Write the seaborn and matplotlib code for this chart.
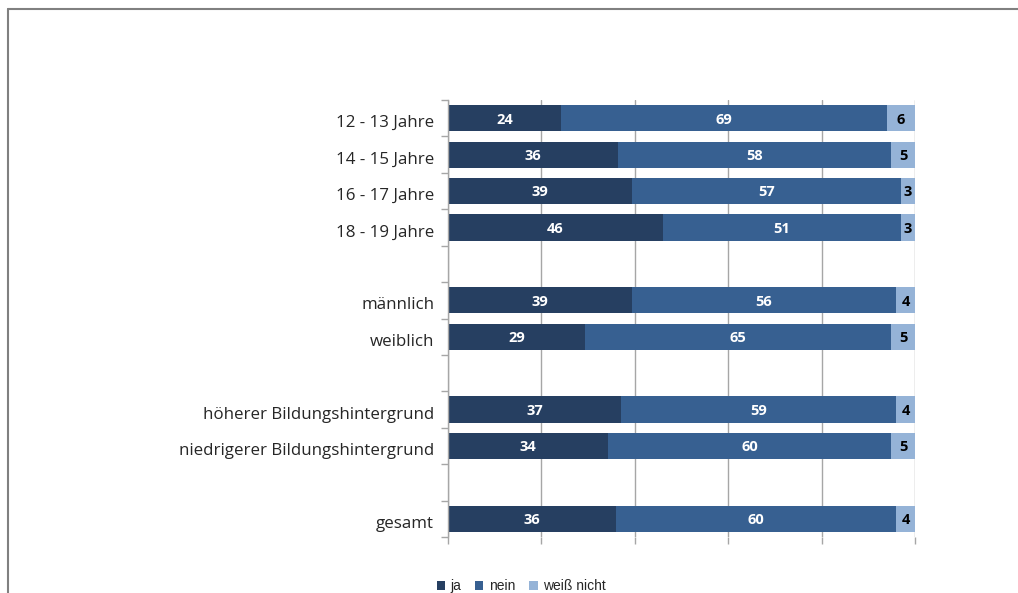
import matplotlib
matplotlib.use("Agg")
import matplotlib.pyplot as plt
from matplotlib.lines import Line2D
from matplotlib.patches import Patch
from matplotlib.transforms import ScaledTranslation
import numpy as np
import pandas as pd
import seaborn as sns

# Survey groups (empty strings are spacer rows between the blocks)
categories = ["12 - 13 Jahre", "14 - 15 Jahre", "16 - 17 Jahre", "18 - 19 Jahre",
              "männlich", "weiblich",
              "höherer Bildungshintergrund", "niedrigerer Bildungshintergrund",
              "gesamt"]
row_order = ["12 - 13 Jahre", "14 - 15 Jahre", "16 - 17 Jahre", "18 - 19 Jahre", " ",
             "männlich", "weiblich", "  ",
             "höherer Bildungshintergrund", "niedrigerer Bildungshintergrund", "   ",
             "gesamt"]
ja = [24, 36, 39, 46, 39, 29, 37, 34, 36]
nein = [69, 58, 57, 51, 56, 65, 59, 60, 60]
weiss_nicht = [6, 5, 3, 3, 4, 5, 4, 5, 4]
series_names = ["ja", "nein", "weiß nicht"]
colors = ["#263F61", "#376091", "#95B3D7"]

df = pd.DataFrame({"Gruppe": categories, "ja": ja, "nein": nein, "weiß nicht": weiss_nicht})
total = df[series_names].sum(axis=1)
shares = df[series_names].div(total, axis=0) * 100
df["c1"] = shares["ja"]
df["c2"] = shares["ja"] + shares["nein"]
df["c3"] = shares.sum(axis=1)

sns.set_style("white")
plt.rcParams["font.family"] = ["Open Sans", "DejaVu Sans"]

fig = plt.figure(figsize=(10.18, 5.93), dpi=100)
ax = fig.add_axes([448 / 1018, 1 - 537 / 593, 467 / 1018, 437 / 593])

bar_w = 0.72
for col, c in zip(["c3", "c2", "c1"], colors[::-1]):
    sns.barplot(data=df, x=col, y="Gruppe", order=row_order, color=c,
                width=bar_w, saturation=1, orient="h", ax=ax, zorder=3,
                linewidth=0, edgecolor="none")

# value labels centred in each segment
pos = {name: i for i, name in enumerate(row_order)}
for _, r in df.iterrows():
    y = pos[r["Gruppe"]]
    starts = [0, r["c1"], r["c2"]]
    ends = [r["c1"], r["c2"], r["c3"]]
    for k, s in enumerate(series_names):
        ax.text((starts[k] + ends[k]) / 2, y + 0.04, f"{r[s]:d}", ha="center", va="center",
                fontsize=10.5, fontweight="bold",
                color="white" if k < 2 else "black", zorder=5)

ax.set_xlim(0, 100)
ax.set_ylim(len(row_order) - 0.5, -0.5)
ax.set_xticks(np.arange(0, 101, 20))
ax.set_xticklabels([])
ax.set_xlabel("")
ax.set_ylabel("")
ax.grid(axis="x", color="#A6A6A6", linewidth=1, zorder=0)
ax.set_axisbelow(True)

# category labels at row centres, tick marks at row boundaries
ax.set_yticks(np.arange(len(row_order)))
ax.set_yticklabels(row_order, fontsize=12.2)
ax.tick_params(axis="y", which="major", length=0, pad=10)
ax.set_yticks(np.arange(-0.5, len(row_order)), minor=True)
ax.tick_params(axis="y", which="minor", left=True, length=5, width=1,
               color="#A6A6A6", direction="out")
ax.tick_params(axis="x", which="major", bottom=True, length=5, width=1,
               color="#A6A6A6", direction="out")
shift = ScaledTranslation(0, -3 / 100, fig.dpi_scale_trans)
for lab in ax.get_yticklabels():
    lab.set_transform(lab.get_transform() + shift)

for side in ["top", "right", "bottom"]:
    ax.spines[side].set_visible(False)
ax.spines["left"].set_color("#A6A6A6")
ax.spines["left"].set_linewidth(1)
ax.spines["left"].set_zorder(4)

# chart frame
fig.add_artist(Line2D([8 / 1018, 8 / 1018], [0, 1 - 9 / 593], transform=fig.transFigure,
                      color="#808080", linewidth=1.5))
fig.add_artist(Line2D([8 / 1018, 1], [1 - 9 / 593, 1 - 9 / 593], transform=fig.transFigure,
                      color="#808080", linewidth=1.5))

handles = [Patch(facecolor=c, edgecolor="none") for c in colors]
fig.legend(handles, series_names, loc="center left", bbox_to_anchor=(424 / 1018, 1 - 586 / 593),
           ncol=3, frameon=False, handlelength=0.6, handleheight=0.6, handletextpad=0.4,
           columnspacing=1.0, prop={"family": "Liberation Sans", "size": 10})

fig.savefig("out.png", dpi=100)
